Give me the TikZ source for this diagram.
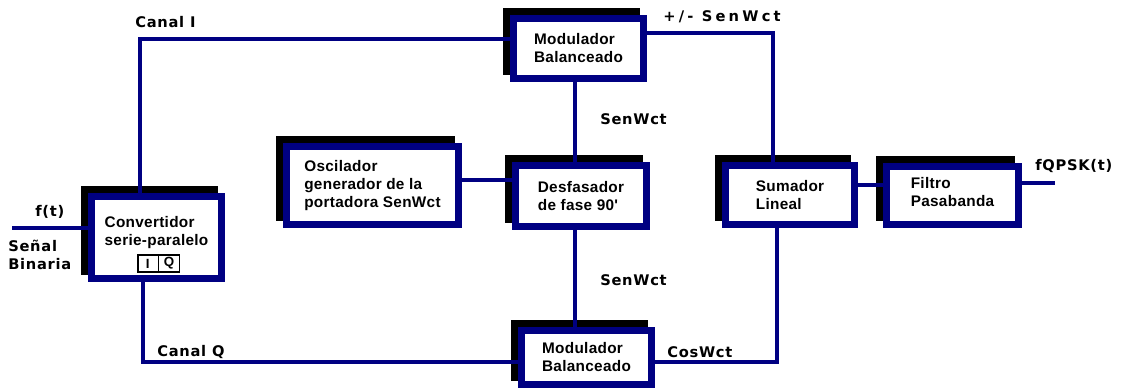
\documentclass[tikz,border=0pt]{standalone}
\usepackage{fontspec}
\usetikzlibrary{shapes.multipart}

\newfontfamily\boxfont{Liberation Sans}[LetterSpace=2]
\newfontfamily\tagfont{DejaVu Sans}[LetterSpace=5]
\newfontfamily\widetagfont{DejaVu Sans}[LetterSpace=22]
\definecolor{navy}{RGB}{0,0,130}

\tikzset{
  block/.style={draw=navy, line width=5pt, fill=white, align=left, inner sep=0pt,
    font=\boxfont\bfseries\fontsize{11.5pt}{13.5pt}\selectfont,
    preaction={draw=black, fill=black, transform canvas={shift={(-5.25pt,5.25pt)}}}},
  wire/.style={navy, line width=2.6pt},
  tag/.style={anchor=west, inner sep=0pt,
    font=\tagfont\bfseries\fontsize{11pt}{13.5pt}\selectfont},
  iqbox/.style={rectangle split, rectangle split parts=2, rectangle split horizontal,
    draw=black, line width=1pt, fill=white, text width=8pt, align=center,
    inner xsep=3.5pt, inner ysep=1pt, minimum height=12.75pt,
    font=\boxfont\bfseries\fontsize{10pt}{11pt}\selectfont},
}

\begin{document}
\begin{tikzpicture}[x=0.75pt, y=-0.75pt]
\useasboundingbox (0,0) rectangle (1133,392);

% blocks
\node[block, minimum width=97.5pt, minimum height=61.5pt, text depth=10pt] (conv) at (156.5,237.5) {Convertidor\\serie-paralelo};
\node[iqbox] (iq) at (158.5,263.5) {I\nodepart{two}Q};
\node[block, minimum width=97.5pt, minimum height=45pt] (modI) at (578.5,48.5) {Modulador\\Balanceado};
\node[block, minimum width=129pt, minimum height=58.5pt] (osc) at (372.5,185.5) {Oscilador\\generador de la\\portadora SenWct};
\node[block, minimum width=98.25pt, minimum height=45.75pt] (desf) at (581,196) {Desfasador\\de fase 90'};
\node[block, minimum width=96.75pt, minimum height=44.25pt] (sum) at (790,195) {Sumador\\Lineal};
\node[block, minimum width=99pt, minimum height=43.5pt, text depth=6pt] (filt) at (952.5,195.5) {Filtro\\Pasabanda};
\node[block, minimum width=97.5pt, minimum height=40.5pt] (modQ) at (586.5,357.5) {Modulador\\Balanceado};

% corners of the wires
\coordinate (in) at (12,228);
\coordinate (chI) at (140,39);
\coordinate (chQ) at (143,362);
\coordinate (carrier) at (575,120);
\coordinate (sumI) at (773,33);
\coordinate (sumQ) at (777,362);
\coordinate (out) at (1055,183);

\draw[wire] (in) -- (in -| conv.west);
\draw[wire] (chI |- conv.north) -- (chI) -- (chI -| modI.west);
\draw[wire] (chQ |- conv.south) -- (chQ) -- (chQ -| modQ.west);
\draw[wire] (carrier |- modI.south) -- (carrier |- desf.north);
\draw[wire] (carrier |- desf.south) -- (carrier |- modQ.north);
\draw[wire] ([yshift=4pt]osc.east) -- ([yshift=4pt]osc.east -| desf.west);
\draw[wire] (sumI -| modI.east) -- (sumI) -- (sumI |- sum.north);
\draw[wire] (sumQ -| modQ.east) -- (sumQ) -- (sumQ |- sum.south);
\draw[wire] ([yshift=7.5pt]sum.east) -- ([yshift=7.5pt]sum.east -| filt.west);
\draw[wire] (out -| filt.east) -- (out);

% signal names
\node[tag] (lblI) at (135,22) {Canal I};
\node[tag] (lblQ) at (157,351.5) {Canal Q};
\node[tag, font=\widetagfont\bfseries\fontsize{11pt}{13pt}\selectfont] (lblpm) at (663,17) {+/- SenWct};
\node[tag] (lblsin) at (600,119) {SenWct};
\node[tag] (lblsinb) at (600,280) {SenWct};
\node[tag] (lblcos) at (667,352) {CosWct};
\node[tag] (lblout) at (1035,166) {fQPSK(t)};
\node[tag] (lblin) at (35,212) {f(t)};
\node[tag, align=left] (lblbin) at (8,255) {Señal\\Binaria};
\end{tikzpicture}
\end{document}
